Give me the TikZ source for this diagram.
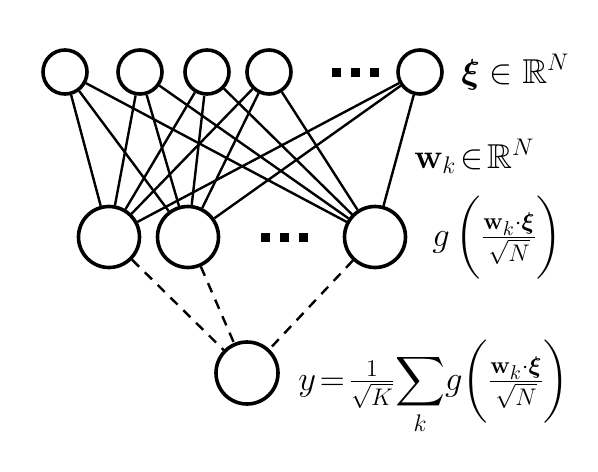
\documentclass[tikz,border=0pt]{standalone}
\usepackage{amsmath, amssymb, bm}
\usetikzlibrary{positioning}

\newcommand{\sqdots}{\rule{4.5pt}{4.5pt}\hspace{5pt}\rule{4.5pt}{4.5pt}\hspace{5pt}\rule{4.5pt}{4.5pt}}

\begin{document}
\begin{tikzpicture}[x=0.5pt, y=-0.5pt,
  inunit/.style={draw, circle, line width=1.8pt, fill=white, minimum size=22pt, inner sep=0pt},
  hidunit/.style={draw, circle, line width=1.8pt, fill=white, minimum size=30.5pt, inner sep=0pt},
  outunit/.style={draw, circle, line width=1.8pt, fill=white, minimum size=31pt, inner sep=0pt},
  conn/.style={line width=1.2pt},
  dconn/.style={line width=1.2pt, dash pattern=on 5pt off 4pt},
  lbl/.style={anchor=base west, inner sep=0pt, font=\LARGE}
]
  \useasboundingbox (0,0) rectangle (598,471);

  % input layer
  \node[inunit] (in1) at (65,72) {};
  \node[inunit] (in2) at (140,72) {};
  \node[inunit] (in3) at (207,72) {};
  \node[inunit] (in4) at (269,72) {};
  \node[inunit] (in5) at (420,72) {};
  \node[inner sep=0pt] (indots) at (355,72) {\sqdots};

  % hidden layer
  \node[hidunit] (hid1) at (109,237) {};
  \node[hidunit] (hid2) at (188,237) {};
  \node[hidunit] (hid3) at (375,237) {};
  \node[inner sep=0pt] (hiddots) at (284,237) {\sqdots};

  % output
  \node[outunit] (out) at (247,373) {};

  \foreach \i in {1,...,5}
    \foreach \j in {1,2,3}
      \draw[conn] (in\i) -- (hid\j);
  \foreach \j in {1,2,3}
    \draw[dconn] (hid\j) -- (out);

  % labels
  \node[lbl] (xilbl) at (461,83) {$\bm{\xi}\in\mathbb{R}^N$};
  \node[lbl] (wlbl) at (414,168) {$\mathbf{w}_k\!\in\!\mathbb{R}^N$};
  \node[lbl] (glbl) at (432,246) {$g\,\bigg(\frac{\mathbf{w}_k\cdot\bm{\xi}}{\sqrt{N}}\bigg)$};
  \node[lbl] (ylbl) at (298,390) {$\displaystyle y\!=\!\tfrac{1}{\sqrt{K}}\!\sum_k\! g\bigg(\tfrac{\mathbf{w}_k\cdot\bm{\xi}}{\sqrt{N}}\bigg)$};
\end{tikzpicture}
\end{document}
